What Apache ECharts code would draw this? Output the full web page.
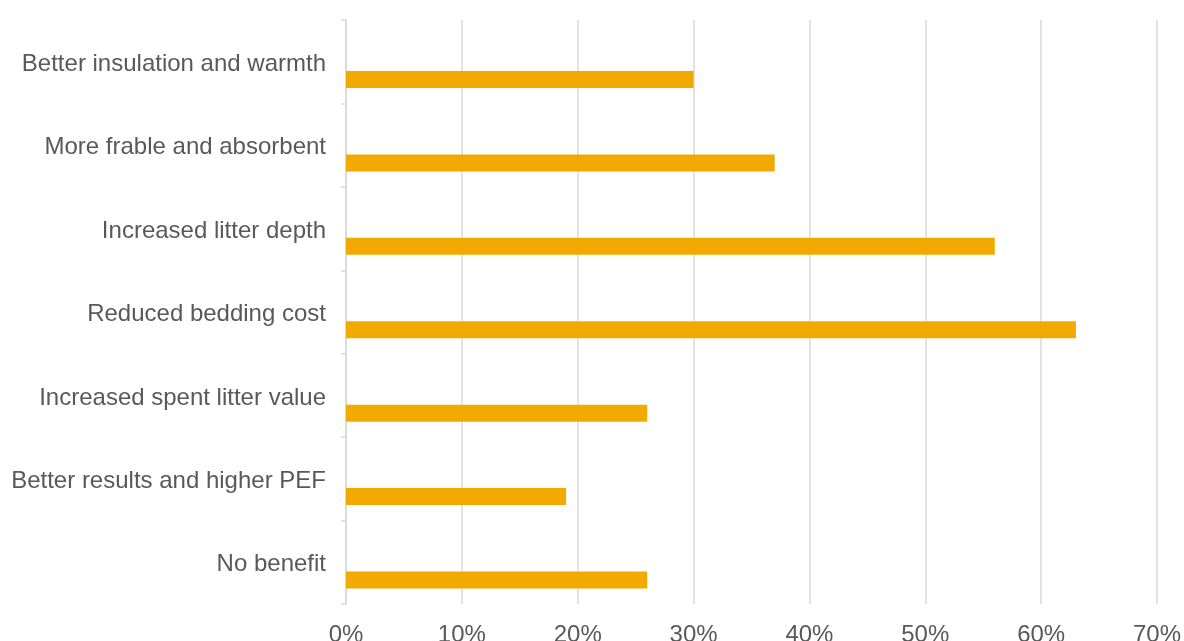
<!DOCTYPE html>
<html>
<head>
<meta charset="utf-8">
<script src="https://cdn.jsdelivr.net/npm/echarts@6/dist/echarts.min.js"></script>
<style>
  html, body { margin: 0; padding: 0; background: #ffffff; }
  #chart { width: 1184px; height: 641px; }
</style>
</head>
<body>
<div id="chart"></div>
<script>
// Reported benefits, share of respondents (%)
const categories = [
  'Better insulation and warmth',
  'More frable and absorbent',
  'Increased litter depth',
  'Reduced bedding cost',
  'Increased spent litter value',
  'Better results and higher PEF',
  'No benefit'
];
const shares = [30, 37, 56, 63, 26, 19, 26];
// Empty companion series: keeps the bar in the lower half of each band
const spacer = categories.map(() => '-');

const axisGrey = '#d9d9d9';
const textGrey = '#595959';
const fontFamily = '"Liberation Sans", Arial, sans-serif';

const chart = echarts.init(document.getElementById('chart'));
chart.setOption({
  animation: false,
  textStyle: { fontFamily: fontFamily },
  grid: {
    left: 346, right: 27, top: 20, bottom: 37,
    containLabel: false,
    outerBoundsMode: 'none'
  },
  xAxis: {
    type: 'value',
    min: 0,
    max: 70,
    interval: 10,
    axisLine: { show: false },
    axisTick: { show: false },
    splitLine: { show: true, lineStyle: { color: axisGrey, width: 1.5 } },
    axisLabel: {
      formatter: '{value}%',
      color: textGrey,
      fontSize: 24,
      fontFamily: fontFamily,
      margin: 19
    }
  },
  yAxis: {
    type: 'category',
    inverse: true,
    data: categories,
    axisLine: { show: true, lineStyle: { color: axisGrey, width: 1.5 } },
    axisTick: { show: true, length: 5, lineStyle: { color: axisGrey, width: 1.5 } },
    axisLabel: {
      margin: 20,
      formatter: (name) => '{c|' + name + '}',
      rich: {
        c: {
          color: textGrey,
          fontSize: 24,
          fontFamily: fontFamily,
          padding: [5, 0, 0, 0]
        }
      }
    }
  },
  series: [
    {
      type: 'bar',
      data: spacer,
      barWidth: 17,
      barGap: '109%',
      silent: true
    },
    {
      type: 'bar',
      data: shares,
      barWidth: 17,
      barGap: '109%',
      itemStyle: { color: '#F2AA00' }
    }
  ]
});
</script>
</body>
</html>
